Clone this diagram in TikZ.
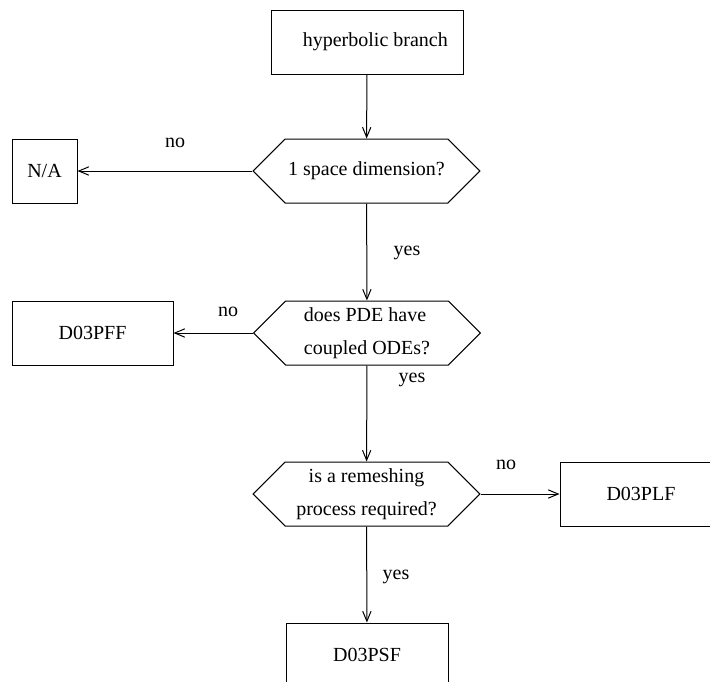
\documentclass[tikz,border=0pt]{standalone}
\usepackage{fontspec}
\setmainfont{Liberation Serif}
\usetikzlibrary{arrows.meta,positioning,shapes.symbols}
\tikzset{
  doboz/.style={draw,line width=0.6pt,inner sep=0pt,minimum height=38.4pt},
  hatszog/.style={draw,line width=0.6pt,signal,signal to=west and east,
    signal pointer angle=90,inner sep=0pt,minimum width=136pt,minimum height=38.4pt,
    align=center},
  nyl/.style={-{Straight Barb[length=6pt,width=5pt]},line width=0.6pt},
}

\begin{document}
\begin{tikzpicture}[x=0.6pt,y=-0.6pt,font=\fontsize{12}{19.8}\selectfont]
  \useasboundingbox (0,0) rectangle (710,681);
  \clip (0,0) rectangle (710,681);
  % boxes and questions
  \node[doboz,minimum width=115.2pt] (hyp) at (367,42) {\hspace{10pt}hyperbolic branch};
  \node[hatszog] (q1) at (366.5,171) {1 space dimension?};
  \node[doboz,minimum width=39pt] (na) at (44.5,171) {N/A};
  \node[hatszog,align=left] (q2) at (367,333) {does PDE have\\coupled ODEs?};
  \node[doboz,minimum width=96.6pt] (pff) at (92.5,333) {D03PFF};
  \node[hatszog] (q3) at (366.5,494) {is a remeshing\\process required?};
  \node[doboz,minimum width=97.2pt] (plf) at (641,494) {D03PLF};
  \node[doboz,minimum width=97.2pt] (psf) at (367,655) {D03PSF};
  % connectors
  \draw[nyl] (hyp) -- (q1);
  \draw[nyl] (q1.west) -- (na);
  \draw[nyl] (q1) -- (q2);
  \draw[nyl] (q2.west) -- (pff);
  \draw[nyl] (q2) -- (q3);
  \draw[nyl] (q3.east) -- (plf);
  \draw[nyl] (q3) -- (psf);
  % labels
  \node (n1) at (175,143) {no};
  \node (y1) at (407,253) {yes};
  \node (n2) at (228,312) {no};
  \node (y2) at (412,380) {yes};
  \node (n3) at (506,465) {no};
  \node (y3) at (396,577) {yes};
\end{tikzpicture}
\end{document}
